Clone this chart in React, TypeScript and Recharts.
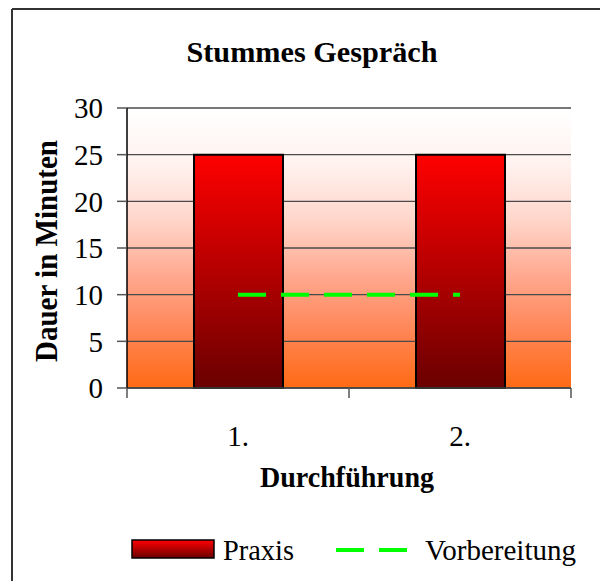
import { ComposedChart, Bar, Line, XAxis, YAxis, CartesianGrid } from 'recharts'

const categories = ['1.', '2.']
const praxis = [25, 25]
const vorbereitung = [10, 10]
const yTicks = [0, 5, 10, 15, 20, 25, 30]
const seriesNames = ['Praxis', 'Vorbereitung']

const data = categories.map((name, i) => ({
  name,
  Praxis: praxis[i],
  Vorbereitung: vorbereitung[i],
}))

const serif = '"Liberation Serif", "Times New Roman", serif'

const XTick = (props: any) => {
  const { x, y, payload, index, visibleTicksCount, width } = props
  const half = payload.offset ?? width / visibleTicksCount / 2
  const axisY = y - 37
  const last = index === visibleTicksCount - 1
  return (
    <g>
      <line x1={x - half} x2={x - half} y1={axisY} y2={axisY + 10} stroke="#555" strokeWidth={1.5} />
      {last && <line x1={x + half} x2={x + half} y1={axisY} y2={axisY + 10} stroke="#555" strokeWidth={1.5} />}
      <text x={x} y={y} dy="0.71em" textAnchor="middle" fill="#000" fontSize={29} fontFamily={serif}>
        {payload.value}
      </text>
    </g>
  )
}

export default function App() {
  return (
    <div style={{ position: 'absolute', left: 0, top: 0, width: 600, height: 581, background: '#fff' }}>
      <svg width={600} height={581} style={{ position: 'absolute', left: 0, top: 0 }}>
        <defs>
          <linearGradient id="plotGrad" x1="0" y1="0" x2="0" y2="1">
            <stop offset="0%" stopColor="#ffffff" />
            <stop offset="20%" stopColor="#fff2ef" />
            <stop offset="40%" stopColor="#ffd6ca" />
            <stop offset="60%" stopColor="#ffa88f" />
            <stop offset="80%" stopColor="#ff8555" />
            <stop offset="100%" stopColor="#ff6a14" />
          </linearGradient>
          <linearGradient id="barGrad" x1="0" y1="0" x2="0" y2="1">
            <stop offset="0%" stopColor="#ff0000" />
            <stop offset="100%" stopColor="#6a0000" />
          </linearGradient>
        </defs>
      </svg>
      <div style={{ position: 'absolute', left: 0, top: 0 }}>
        <ComposedChart width={600} height={581} data={data} margin={{ top: 108, right: 29, left: 47, bottom: 133 }}>
          <CartesianGrid horizontal vertical={false} stroke="#4a4a4a" strokeWidth={1.3} fill="url(#plotGrad)" fillOpacity={1} />
          <XAxis
            dataKey="name"
            height={60}
            tickLine={false}
            tickSize={10}
            tickMargin={27}
            axisLine={{ stroke: '#444', strokeWidth: 1.5 }}
            tick={<XTick />}
          />
          <YAxis
            width={80}
            domain={[0, 30]}
            ticks={yTicks}
            tickSize={10}
            tickMargin={14}
            axisLine={{ stroke: '#000', strokeWidth: 1.5 }}
            tickLine={{ stroke: '#555', strokeWidth: 1.5 }}
            tick={{ fill: '#000', fontSize: 29, fontFamily: serif }}
          />
          <Bar dataKey="Praxis" barSize={89} fill="url(#barGrad)" stroke="#000" strokeWidth={2} isAnimationActive={false} />
          <Line
            dataKey="Vorbereitung"
            type="linear"
            stroke="#00ff00"
            strokeWidth={4}
            strokeDasharray="28 15"
            dot={false}
            activeDot={false}
            isAnimationActive={false}
          />
        </ComposedChart>
      </div>
      <svg width={600} height={581} style={{ position: 'absolute', left: 0, top: 0, pointerEvents: 'none' }}>
        <line x1={12} y1={9} x2={600} y2={9} stroke="#333" strokeWidth={2} />
        <line x1={12} y1={9} x2={12} y2={581} stroke="#333" strokeWidth={2} />
        <text
          x={312}
          y={62}
          textAnchor="middle"
          fontFamily={serif}
          fontWeight="bold"
          fontSize={30}
          textLength={251}
          lengthAdjust="spacingAndGlyphs"
          fill="#000"
        >
          Stummes Gespräch
        </text>
        <text
          x={57}
          y={251}
          transform="rotate(-90 57 251)"
          textAnchor="middle"
          fontFamily={serif}
          fontWeight="bold"
          fontSize={32}
          textLength={222}
          lengthAdjust="spacingAndGlyphs"
          fill="#000"
        >
          Dauer in Minuten
        </text>
        <text
          x={347}
          y={487}
          textAnchor="middle"
          fontFamily={serif}
          fontWeight="bold"
          fontSize={29}
          textLength={174}
          lengthAdjust="spacingAndGlyphs"
          fill="#000"
        >
          Durchführung
        </text>
        <rect x={132} y={540} width={82} height={18} fill="url(#barGrad)" stroke="#000" strokeWidth={1.5} />
        <text x={223} y={560} fontFamily={serif} fontSize={30} textLength={71} lengthAdjust="spacingAndGlyphs" fill="#000">
          {seriesNames[0]}
        </text>
        <line x1={336} y1={550} x2={407} y2={550} stroke="#00ff00" strokeWidth={4} strokeDasharray="28 15" />
        <text x={425} y={560} fontFamily={serif} fontSize={30} textLength={151} lengthAdjust="spacingAndGlyphs" fill="#000">
          {seriesNames[1]}
        </text>
      </svg>
    </div>
  )
}
